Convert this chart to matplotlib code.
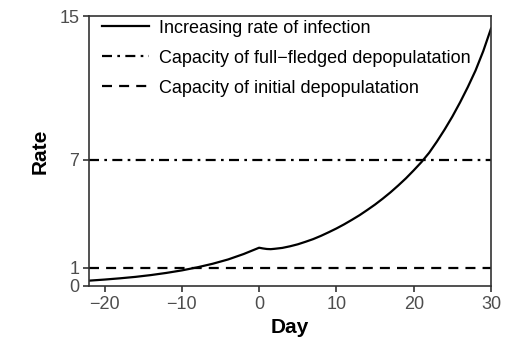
import numpy as np
import matplotlib
matplotlib.use("Agg")
import matplotlib.pyplot as plt

plt.rcParams['font.family'] = ['Liberation Sans', 'DejaVu Sans']

# ========== Data ==========
days = [-22, -20, -18, -16, -14, -12, -10, -8, -6, -4, -2, 0,
        0.5, 1, 1.5, 2, 3, 4, 5, 6, 7, 8, 9, 10, 11, 12, 13, 14, 15,
        16, 17, 18, 19, 20, 21, 22, 23, 24, 25, 26, 27, 28, 29, 30]
rate = [0.29, 0.35, 0.42, 0.50, 0.60, 0.72, 0.86, 1.03, 1.23, 1.47, 1.77, 2.12,
        2.08, 2.05, 2.04, 2.06, 2.11, 2.20, 2.31, 2.45, 2.60, 2.78, 2.98, 3.19,
        3.42, 3.67, 3.93, 4.22, 4.52, 4.85, 5.20, 5.58, 5.98, 6.42, 6.88, 7.40,
        8.02, 8.69, 9.41, 10.2, 11.05, 11.97, 13.05, 14.3]
full_capacity = 7
initial_capacity = 1

x_ticks = [-20, -10, 0, 10, 20, 30]
y_ticks = [0, 1, 7, 15]

# ========== Plot ==========
fig = plt.figure(figsize=(5.24, 3.56), dpi=100)
ax = fig.add_axes([0.170, 0.197, 0.767, 0.758])

ax.plot(days, rate, color="black", lw=1.6, label="Increasing rate of infection")
ax.axhline(full_capacity, color="black", lw=1.6, linestyle=(0, (4.5, 2.4, 1.2, 2.4)),
           label="Capacity of full\u2212fledged depopulatation")
ax.axhline(initial_capacity, color="black", lw=1.6, linestyle=(0, (4.5, 3.2)),
           label="Capacity of initial depopulatation")

ax.set_xlim(-22, 30)
ax.set_ylim(0, 15)
ax.set_xticks(x_ticks)
ax.set_yticks(y_ticks)
ax.set_xticklabels([str(t).replace("-", "\u2212") for t in x_ticks])
ax.tick_params(direction="out", length=4, width=1.2, labelsize=13,
               labelcolor="#4d4d4d", color="#333333", pad=3)
for sp in ax.spines.values():
    sp.set_linewidth(1.2)
    sp.set_color("#333333")

ax.set_xlabel("Day", fontsize=15, fontweight="bold", labelpad=4)
ax.set_ylabel("Rate", fontsize=15, fontweight="bold", labelpad=7)

ax.legend(loc="upper left", bbox_to_anchor=(0.0226, 1.0), frameon=False,
          fontsize=13, handlelength=2.6, labelspacing=0.72,
          borderaxespad=0, borderpad=0.2, handletextpad=0.55)

fig.savefig("out.png", dpi=100)
